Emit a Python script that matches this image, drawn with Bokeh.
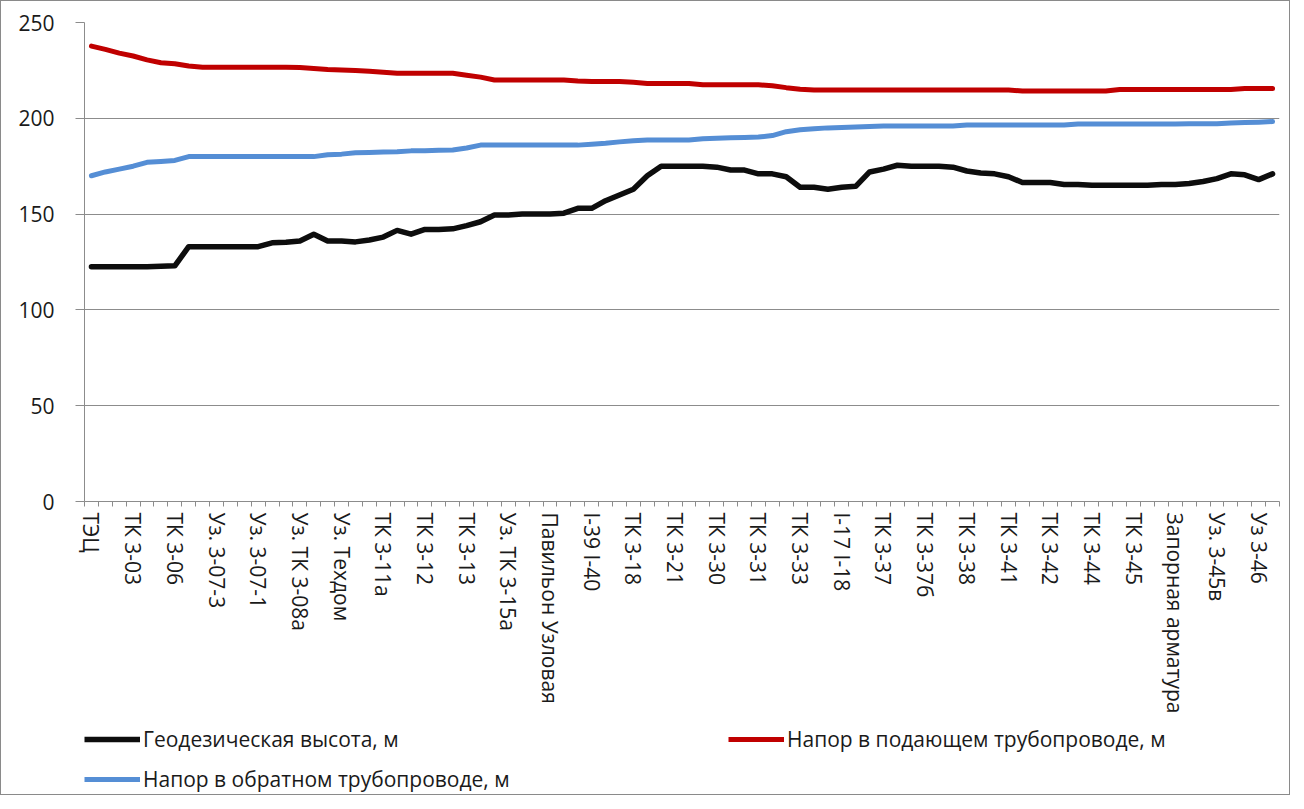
from bokeh.plotting import figure
from bokeh.layouts import column
from bokeh.models import Range1d, FixedTicker, Legend, LegendItem
from bokeh.embed import file_html
from bokeh.resources import INLINE

# ---- data ----
labels = ["ТЭЦ", "ТК 3-03", "ТК 3-06", "Уз. 3-07-3", "Уз. 3-07-1", "Уз. ТК 3-08а",
          "Уз. Техдом", "ТК 3-11а", "ТК 3-12", "ТК 3-13", "Уз. ТК 3-15а",
          "Павильон Узловая", "I-39 I-40", "ТК 3-18", "ТК 3-21", "ТК 3-30", "ТК 3-31",
          "ТК 3-33", "I-17 I-18", "ТК 3-37", "ТК 3-37б", "ТК 3-38", "ТК 3-41",
          "ТК 3-42", "ТК 3-44", "ТК 3-45", "Запорная арматура", "Уз. 3-45в", "Уз 3-46"]
label_step = 3

geo = [122.5, 122.5, 122.5, 122.5, 122.5, 122.8, 123, 133, 133, 133,
       133, 133, 133, 135, 135.3, 136, 139.5, 136, 136, 135.5,
       136.5, 138, 141.5, 139.5, 142, 142, 142.3, 144, 146, 149.5,
       149.5, 150, 150, 150, 150.5, 153, 153, 157, 160, 163,
       170, 175, 175, 175, 175, 174.5, 173, 173, 171, 171,
       169.5, 164, 164, 163, 164, 164.5, 172, 173.5, 175.5, 175,
       175, 175, 174.5, 172.5, 171.5, 171, 169.5, 166.5, 166.5, 166.5,
       165.5, 165.5, 165, 165, 165, 165, 165, 165.5, 165.5, 166,
       167, 168.5, 171, 170.5, 168, 171]

supply = [237.7, 236, 234, 232.5, 230.5, 229, 228.5, 227.3, 226.7, 226.7,
          226.7, 226.7, 226.7, 226.7, 226.7, 226.5, 226, 225.5, 225.2, 225,
          224.5, 224, 223.5, 223.5, 223.5, 223.5, 223.5, 222.5, 221.5, 220,
          220, 220, 220, 220, 220, 219.5, 219.2, 219.2, 219.2, 218.8,
          218.2, 218.2, 218.2, 218.2, 217.5, 217.5, 217.5, 217.5, 217.5, 217,
          216, 215.2, 214.8, 214.8, 214.8, 214.8, 214.8, 214.8, 214.8, 214.8,
          214.8, 214.8, 214.8, 214.8, 214.8, 214.8, 214.8, 214.2, 214.2, 214.2,
          214.2, 214.2, 214.2, 214.2, 215, 215, 215, 215, 215, 215,
          215, 215, 215, 215.5, 215.5, 215.5]

ret = [170, 172, 173.5, 175, 177, 177.5, 178, 180, 180, 180,
       180, 180, 180, 180, 180, 180, 180, 181, 181.3, 182,
       182.2, 182.4, 182.6, 183, 183, 183.3, 183.5, 184.5, 186, 186,
       186, 186, 186, 186, 186, 186, 186.5, 187, 187.7, 188.3,
       188.7, 188.7, 188.7, 188.7, 189.3, 189.6, 189.8, 190, 190.2, 191,
       193, 194, 194.5, 195, 195.2, 195.4, 195.7, 196, 196, 196,
       196, 196, 196, 196.5, 196.5, 196.5, 196.5, 196.5, 196.5, 196.5,
       196.5, 197, 197, 197, 197, 197, 197, 197, 197, 197.2,
       197.2, 197.2, 197.6, 197.8, 198, 198.3]

series_names = ["Геодезическая высота, м", "Напор в подающем трубопроводе, м",
                "Напор в обратном трубопроводе, м"]
series_colors = ["#0d0d0d", "#c00000", "#558ed5"]
y_ticks = [0, 50, 100, 150, 200, 250]

# ---- main figure ----
n = len(geo)
x = list(range(n))
FONT = "Open Sans"
GRAY = "#8c8c8c"
W = 1288

p = figure(width=W, height=715, output_backend="svg", toolbar_location=None,
           x_range=Range1d(-0.5, n - 0.5), y_range=Range1d(0, 250),
           min_border_left=83, min_border_top=21, min_border_right=10,
           min_border_bottom=212)
p.outline_line_color = None

p.xgrid.grid_line_color = None
p.ygrid.grid_line_color = GRAY
p.ygrid.grid_line_width = 1

label_pos = [i * label_step for i in range(len(labels))]
p.xaxis.ticker = FixedTicker(ticks=label_pos, minor_ticks=[i - 0.5 for i in range(n + 1)])
p.xaxis.major_label_overrides = {pos: lab for pos, lab in zip(label_pos, labels)}
p.xaxis.major_label_orientation = "vertical"
p.xaxis.major_tick_line_color = None
p.xaxis.major_tick_out = 5
p.xaxis.major_tick_in = 0
p.xaxis.minor_tick_line_color = GRAY
p.xaxis.minor_tick_out = 5
p.xaxis.minor_tick_in = 0
p.xaxis.axis_line_color = GRAY
p.xaxis.major_label_standoff = 6

p.yaxis.ticker = FixedTicker(ticks=y_ticks)
p.yaxis.major_tick_line_color = GRAY
p.yaxis.major_tick_out = 9
p.yaxis.major_tick_in = 0
p.yaxis.minor_tick_line_color = None
p.yaxis.axis_line_color = GRAY
p.yaxis.major_label_standoff = 21

for ax in (p.xaxis, p.yaxis):
    ax.major_label_text_font = FONT
    ax.major_label_text_font_size = "21px"
    ax.major_label_text_color = "#1a1a1a"

widths = [5.5, 5, 5]
all_series = [geo, supply, ret]
for ys, col, lw in zip(all_series, series_colors, widths):
    p.line(x, ys, line_color=col, line_width=lw, line_join="round", line_cap="round")

# ---- legend strip (separate figure so the legend is not clipped) ----
pl = figure(width=W, height=78, output_backend="svg", toolbar_location=None,
            x_range=Range1d(0, 1), y_range=Range1d(0, 1), min_border=0,
            x_axis_location=None, y_axis_location=None)
pl.grid.visible = False
pl.outline_line_color = None
# same series, outside this strip's visible range: only used as legend keys
leg_r = [pl.line(x, ys, line_color=col, line_width=lw)
         for ys, col, lw in zip(all_series, series_colors, widths)]

common = dict(orientation="horizontal",
              spacing=5, glyph_width=56, glyph_height=30,
              label_standoff=3, padding=0, margin=0,
              border_line_color=None, background_fill_alpha=0,
              label_text_font=FONT, label_text_font_size="21px",
              label_text_color="#1a1a1a")
leg1 = Legend(items=[LegendItem(label=series_names[0], renderers=[leg_r[0]]),
                     LegendItem(label=series_names[1], renderers=[leg_r[1]])],
              label_width=580, location=(0, 40), **common)
leg2 = Legend(items=[LegendItem(label=series_names[2], renderers=[leg_r[2]])],
              location=(0, 0), **common)
pl.add_layout(leg1)
pl.add_layout(leg2)

layout = column(p, pl, spacing=0, styles={"border": "1px solid #8a8a8a"})

open("out.html", "w").write(file_html(layout, INLINE))
